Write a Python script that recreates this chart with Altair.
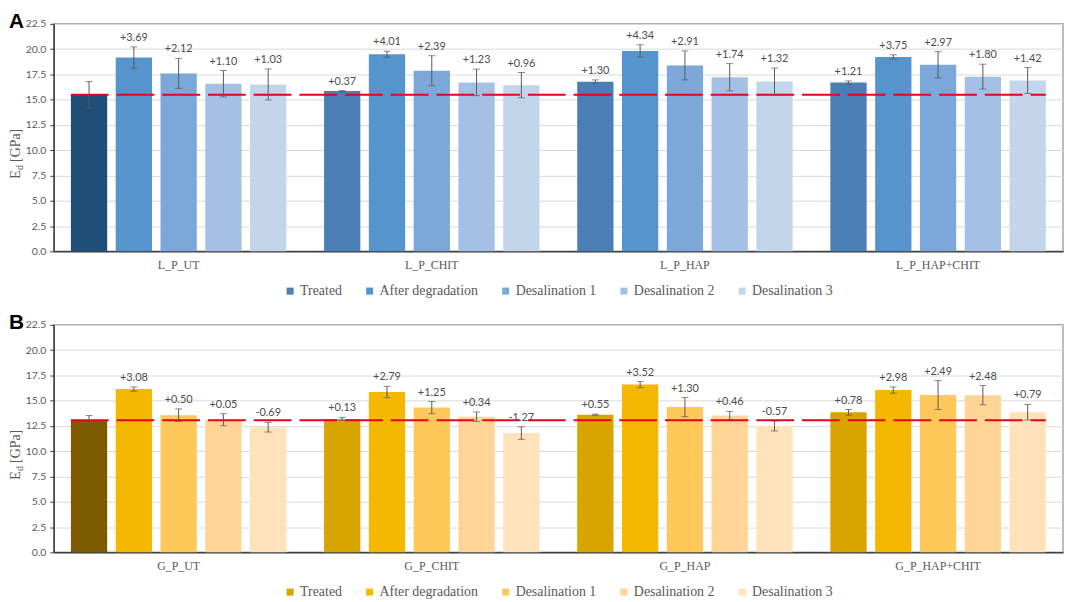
import altair as alt
import pandas as pd

# ---------------- data ----------------
series = ["Treated", "After degradation", "Desalination 1", "Desalination 2", "Desalination 3"]

groups_A = ["L_P_UT", "L_P_CHIT", "L_P_HAP", "L_P_HAP+CHIT"]
means_A = [
    [15.48, 19.17, 17.60, 16.58, 16.51],
    [15.85, 19.49, 17.87, 16.71, 16.44],
    [16.78, 19.82, 18.39, 17.22, 16.80],
    [16.69, 19.23, 18.45, 17.28, 16.90],
]
errs_A = [
    [1.31, 1.05, 1.48, 1.31, 1.53],
    [0.05, 0.30, 1.48, 1.31, 1.25],
    [0.18, 0.61, 1.43, 1.35, 1.33],
    [0.16, 0.21, 1.30, 1.23, 1.28],
]
labels_A = [
    ["", "+3.69", "+2.12", "+1.10", "+1.03"],
    ["+0.37", "+4.01", "+2.39", "+1.23", "+0.96"],
    ["+1.30", "+4.34", "+2.91", "+1.74", "+1.32"],
    ["+1.21", "+3.75", "+2.97", "+1.80", "+1.42"],
]
reference_A = 15.48

groups_B = ["G_P_UT", "G_P_CHIT", "G_P_HAP", "G_P_HAP+CHIT"]
means_B = [
    [13.07, 16.15, 13.57, 13.12, 12.38],
    [13.20, 15.86, 14.32, 13.41, 11.80],
    [13.62, 16.59, 14.37, 13.53, 12.50],
    [13.85, 16.05, 15.56, 15.55, 13.86],
]
errs_B = [
    [0.46, 0.21, 0.62, 0.59, 0.48],
    [0.15, 0.56, 0.60, 0.47, 0.62],
    [0.05, 0.30, 0.95, 0.41, 0.49],
    [0.28, 0.31, 1.43, 0.95, 0.77],
]
labels_B = [
    ["", "+3.08", "+0.50", "+0.05", "-0.69"],
    ["+0.13", "+2.79", "+1.25", "+0.34", "-1.27"],
    ["+0.55", "+3.52", "+1.30", "+0.46", "-0.57"],
    ["+0.78", "+2.98", "+2.49", "+2.48", "+0.79"],
]
reference_B = 13.07

y_ticks = [0.0, 2.5, 5.0, 7.5, 10.0, 12.5, 15.0, 17.5, 20.0, 22.5]

colors_A = ["#4A7EB5", "#5594CC", "#7BA8D9", "#A4C1E5", "#C3D5EB"]
colors_B = ["#D8A400", "#F4B800", "#FFC85A", "#FFD597", "#FFE1BA"]
untreated_A = "#1F4E79"
untreated_B = "#7B5C00"

W, H = 1016, 229
SERIF = "Liberation Serif"
SANS = "Lato"


def panel(letter, groups, means, errs, labels, colors, first_color, ref):
    rows = []
    for gi, g in enumerate(groups):
        for si, s in enumerate(series):
            m = means[gi][si]
            e = errs[gi][si]
            rows.append(dict(group=g, series=s, mean=m, lo=m - e, hi=m + e,
                             label=labels[gi][si]))
    df = pd.DataFrame(rows)

    xscale = alt.Scale(domain=groups, paddingInner=0.149, paddingOuter=0.068)
    xaxis = alt.Axis(title=None, ticks=False, labelFont=SERIF, labelFontSize=12,
                     labelColor="#595959", labelPadding=8, domainColor="#404040",
                     domainWidth=1.5, grid=False, labelAngle=0)
    yscale = alt.Scale(domain=[0, 22.5], nice=False, zero=True)
    yaxis = alt.Axis(title=None, values=y_ticks, format=".1f", labelFont=SANS,
                     labelFontSize=10.5, labelColor="#595959", tickColor="#404040",
                     tickSize=4, labelPadding=4, domainColor="#404040", domainWidth=1.5,
                     gridColor="#D9D9D9", gridWidth=1)

    X = alt.X("group:N", scale=xscale, axis=xaxis, sort=groups)
    XO = alt.XOffset("series:N", sort=series,
                     scale=alt.Scale(domain=series, paddingInner=0.19, paddingOuter=0))

    base = alt.Chart(df)

    color = alt.when(
        (alt.datum.group == groups[0]) & (alt.datum.series == series[0])
    ).then(alt.value(first_color)).otherwise(
        alt.Color("series:N", sort=series,
                  scale=alt.Scale(domain=series, range=colors),
                  legend=alt.Legend(orient="none", legendX=231, legendY=262,
                                    direction="horizontal", title=None,
                                    symbolType="square", symbolSize=50,
                                    symbolStrokeWidth=0, labelFont=SERIF,
                                    labelFontSize=14, labelColor="#595959",
                                    columnPadding=20, labelOffset=3))
    )

    bars = base.mark_bar().encode(
        x=X, xOffset=XO,
        y=alt.Y("mean:Q", scale=yscale, axis=yaxis, title=None),
        color=color,
    )

    ref_df = pd.DataFrame({"start": [groups[0]], "end": [groups[-1]], "ref": [ref]})
    redline = alt.Chart(ref_df).mark_rule(color="#E8001C", strokeWidth=2,
                                          strokeDash=[38, 8]).encode(
        x=alt.X("start:N", scale=xscale, axis=xaxis, bandPosition=0),
        x2=alt.X2("end:N", bandPosition=1),
        y=alt.Y("ref:Q", scale=yscale, axis=yaxis, title=None),
    )

    err_rule = base.mark_rule(color="#595959", strokeWidth=1).encode(
        x=X, xOffset=XO,
        y=alt.Y("lo:Q", scale=yscale, axis=yaxis, title=None),
        y2="hi:Q",
    )
    cap_lo = base.mark_tick(orient="horizontal", color="#595959", thickness=1,
                            size=7).encode(
        x=X, xOffset=XO, y=alt.Y("lo:Q", scale=yscale, axis=yaxis, title=None))
    cap_hi = base.mark_tick(orient="horizontal", color="#595959", thickness=1,
                            size=7).encode(
        x=X, xOffset=XO, y=alt.Y("hi:Q", scale=yscale, axis=yaxis, title=None))

    text = base.mark_text(font=SANS, fontSize=11, color="#4D4D4D", baseline="middle",
                          dy=-9).encode(
        x=X, xOffset=XO, y=alt.Y("hi:Q", scale=yscale, axis=yaxis, title=None),
        text="label:N")

    one = pd.DataFrame({"k": [0]})
    t_E = alt.Chart(one).mark_text(text="E", font=SERIF, fontSize=14, angle=270,
                                   align="left", baseline="middle",
                                   color="#595959").encode(
        x=alt.value(-38), y=alt.value(156))
    t_d = alt.Chart(one).mark_text(text="d", font=SERIF, fontSize=10, angle=270,
                                   align="left", baseline="middle",
                                   color="#595959").encode(
        x=alt.value(-34), y=alt.value(147))
    t_g = alt.Chart(one).mark_text(text="[GPa]", font=SERIF, fontSize=14, angle=270,
                                   align="left", baseline="middle",
                                   color="#595959").encode(
        x=alt.value(-38), y=alt.value(139))

    layer = alt.layer(bars, redline, err_rule, cap_lo, cap_hi, text, t_E, t_d, t_g).properties(
        width=W, height=H,
        title=alt.TitleParams(letter, anchor="start", frame="bounds",
                              font="Liberation Sans", fontSize=21, fontWeight="bold",
                              color="black", offset=-13),
    )
    return layer


pA = panel("A", groups_A, means_A, errs_A, labels_A, colors_A, untreated_A, reference_A)
pB = panel("B", groups_B, means_B, errs_B, labels_B, colors_B, untreated_B, reference_B)

chart = alt.vconcat(pA, pB, spacing=12).resolve_scale(
    color="independent", x="independent", y="independent"
).resolve_legend(color="independent").properties(padding=0).configure_view(
    stroke="#A6A6A6", strokeWidth=1.5
)

chart.save("out.html", embed_options={"renderer": "svg", "actions": False})
